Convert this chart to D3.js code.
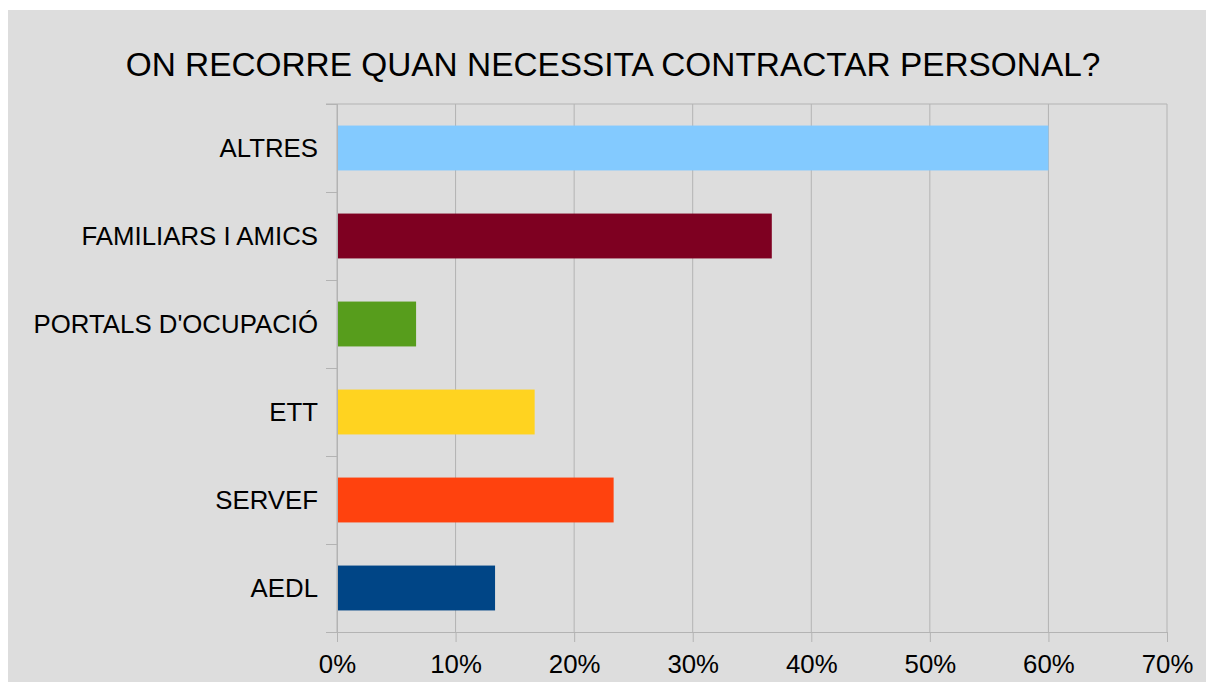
<!DOCTYPE html>
<html>
<head>
<meta charset="utf-8">
<script src="https://cdn.jsdelivr.net/npm/d3@7"></script>
<style>
  body { margin: 0; background: #ffffff; }
  text { font-family: "Liberation Sans", Arial, sans-serif; fill: #000; }
</style>
</head>
<body>
<div id="barchart"></div>
<script>
// data
var categories = ["ALTRES", "FAMILIARS I AMICS", "PORTALS D'OCUPACIÓ", "ETT", "SERVEF", "AEDL"];
var values = [0.60, 0.3667, 0.0667, 0.1667, 0.2333, 0.1333];
var colors = ["#83caff", "#7e0021", "#579d1c", "#ffd320", "#ff420e", "#004586"];
var xTicks = [0, 0.1, 0.2, 0.3, 0.4, 0.5, 0.6, 0.7];
var title = "ON RECORRE QUAN NECESSITA CONTRACTAR PERSONAL?";

var W = 1206, H = 682;
var margin = {top: 104, right: 39, bottom: 50, left: 337},
    width = 1167 - margin.left,
    height = 632 - margin.top;

var root = d3.select("#barchart")
  .append("svg")
    .attr("width", W)
    .attr("height", H);

// chart background
root.append("rect")
  .attr("x", 8).attr("y", 10)
  .attr("width", W - 8).attr("height", H - 10)
  .attr("fill", "#dddddd");

root.append("text")
  .text(title)
  .attr("x", 613)
  .attr("y", 76)
  .attr("text-anchor", "middle")
  .style("font-size", "33.4px");

var svg = root.append("g")
  .attr("transform", "translate(" + margin.left + "," + margin.top + ")");

var x = d3.scaleLinear()
  .domain([0, 0.7])
  .range([0, width]);

var y = d3.scaleBand()
  .domain(categories)
  .range([0, height])
  .paddingInner(0.49)
  .paddingOuter(0.245);

// vertical grid lines
svg.append("g")
  .selectAll("line")
  .data(xTicks)
  .enter()
  .append("line")
    .attr("x1", function(d) { return x(d); })
    .attr("x2", function(d) { return x(d); })
    .attr("y1", 0)
    .attr("y2", height)
    .attr("stroke", "#b3b3b3")
    .attr("stroke-width", 1);

// top border of plot
svg.append("line")
  .attr("x1", -11).attr("x2", width)
  .attr("y1", 0).attr("y2", 0)
  .attr("stroke", "#b3b3b3");

// bars
svg.selectAll("mybar")
  .data(categories)
  .enter()
  .append("rect")
    .attr("x", x(0))
    .attr("y", function(d) { return y(d); })
    .attr("width", function(d, i) { return x(values[i]) - x(0); })
    .attr("height", y.bandwidth())
    .attr("fill", function(d, i) { return colors[i]; });

// x axis
var xAxis = svg.append("g")
  .attr("transform", "translate(0," + height + ")")
  .call(d3.axisBottom(x)
    .tickValues(xTicks)
    .tickFormat(d3.format(".0%"))
    .tickSize(10)
    .tickPadding(8))
  .call(function(g) {
    g.select(".domain").attr("stroke", "#b3b3b3").attr("d", "M-11,0.5H" + width);
  });
xAxis.selectAll(".tick line").attr("stroke", "#b3b3b3");
xAxis.selectAll("text")
  .style("font-size", "25.8px")
  .attr("dy", "0.9em")
  .attr("fill", "#000");

// y axis: band boundary ticks
var bounds = d3.range(categories.length + 1).map(function(i) {
  return i * height / categories.length;
});
svg.append("line")
  .attr("x1", 0.5).attr("x2", 0.5)
  .attr("y1", 0).attr("y2", height + 10)
  .attr("stroke", "#b3b3b3");
svg.append("g")
  .selectAll("line")
  .data(bounds)
  .enter()
  .append("line")
    .attr("x1", -11).attr("x2", 0)
    .attr("y1", function(d) { return d + 0.5; })
    .attr("y2", function(d) { return d + 0.5; })
    .attr("stroke", "#b3b3b3");

svg.append("g")
  .selectAll("text")
  .data(categories)
  .enter()
  .append("text")
    .text(function(d) { return d; })
    .attr("x", -19)
    .attr("y", function(d) { return y(d) + y.bandwidth() / 2; })
    .attr("dy", "0.36em")
    .attr("text-anchor", "end")
    .style("font-size", "25.8px");
</script>
</body>
</html>
